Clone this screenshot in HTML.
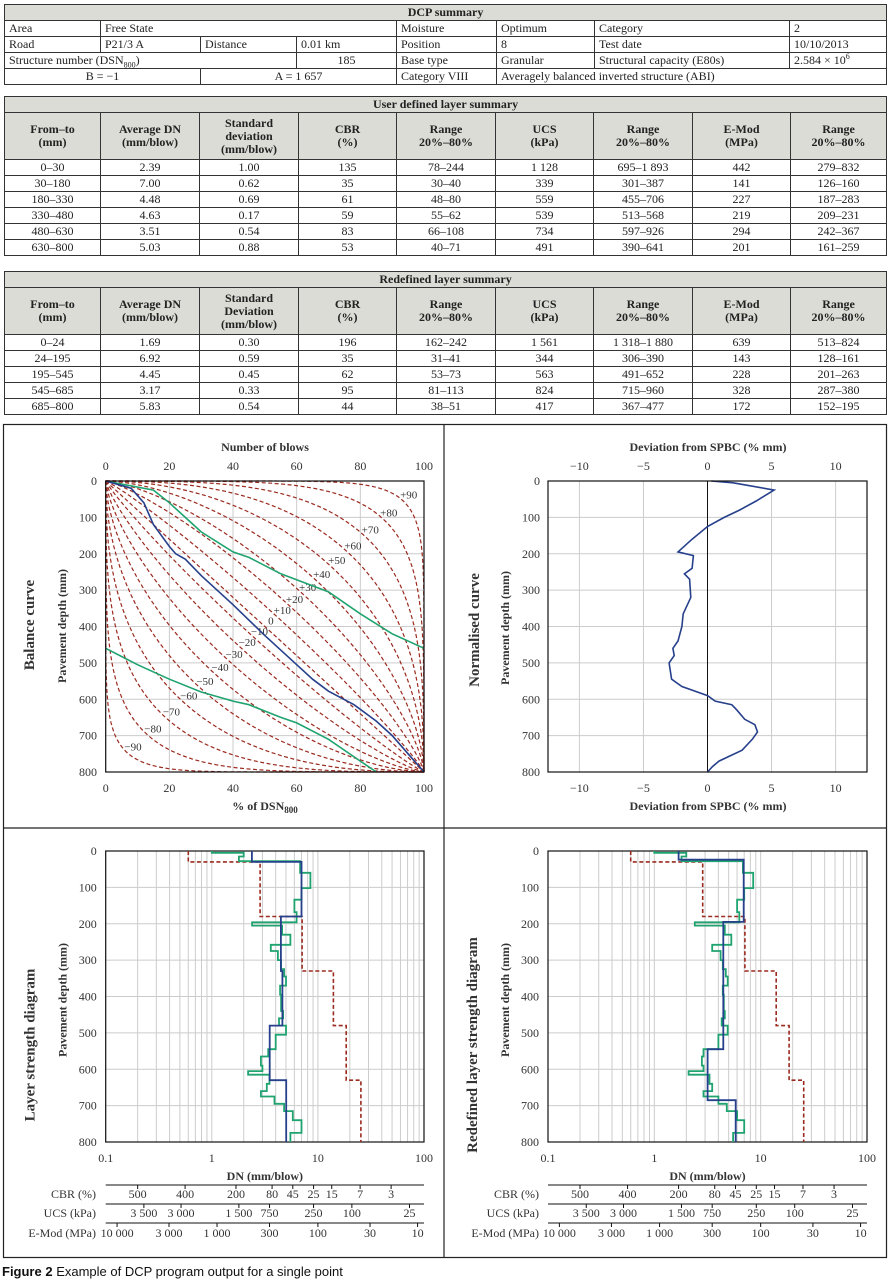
<!DOCTYPE html>
<html><head><meta charset="utf-8">
<style>
body{margin:0;background:#fff;width:890px;height:1285px;position:relative;overflow:hidden;font-family:"Liberation Serif",serif;color:#222}
table{position:absolute;border-collapse:collapse;table-layout:fixed;font-size:12px;font-family:"Liberation Serif",serif}
td{border:1px solid #333;padding:0 4px;height:15px;line-height:15px;white-space:nowrap;overflow:hidden}
sub,sup{line-height:0;font-size:8px}
.hd td{background:#dcdcd7;text-align:center}
.ch td{background:#dcdcd7;text-align:center;font-weight:bold;line-height:13px;height:46px}
.dr td{text-align:center}
.cap{position:absolute;left:2px;top:1264px;font-family:"Liberation Sans",sans-serif;font-size:13px;color:#111}
svg text{font-family:"Liberation Serif",serif}
</style></head><body>
<table style="left:4px;top:4px;width:882px">
<colgroup><col style="width:96px"><col style="width:100px"><col style="width:96px"><col style="width:100px"><col style="width:100px"><col style="width:98px"><col style="width:195px"><col style="width:97px"></colgroup>
<tr class="hd"><td colspan="8" style="font-weight:bold">DCP summary</td></tr>
<tr><td>Area</td><td colspan="3">Free State</td><td>Moisture</td><td>Optimum</td><td>Category</td><td>2</td></tr>
<tr><td>Road</td><td>P21/3 A</td><td>Distance</td><td>0.01 km</td><td>Position</td><td>8</td><td>Test date</td><td>10/10/2013</td></tr>
<tr><td colspan="3">Structure number (DSN<sub>800</sub>)</td><td style="text-align:center">185</td><td>Base type</td><td>Granular</td><td>Structural capacity (E80s)</td><td>2.584 × 10<sup>6</sup></td></tr>
<tr><td colspan="2" style="text-align:center">B = −1</td><td colspan="2" style="text-align:center">A = 1 657</td><td>Category VIII</td><td colspan="3">Averagely balanced inverted structure (ABI)</td></tr>
</table>

<table style="left:4px;top:96px;width:882px">
<colgroup><col style="width:96px"><col style="width:99px"><col style="width:99px"><col style="width:98px"><col style="width:99px"><col style="width:98px"><col style="width:99px"><col style="width:98px"><col style="width:96px"></colgroup>
<tr class="hd"><td colspan="9" style="font-weight:bold">User defined layer summary</td></tr>
<tr class="ch"><td>From–to<br>(mm)</td><td>Average DN<br>(mm/blow)</td><td>Standard<br>deviation<br>(mm/blow)</td><td>CBR<br>(%)</td><td>Range<br>20%–80%</td><td>UCS<br>(kPa)</td><td>Range<br>20%–80%</td><td>E-Mod<br>(MPa)</td><td>Range<br>20%–80%</td></tr>
<tr class="dr"><td>0–30</td><td>2.39</td><td>1.00</td><td>135</td><td>78–244</td><td>1 128</td><td>695–1 893</td><td>442</td><td>279–832</td></tr>
<tr class="dr"><td>30–180</td><td>7.00</td><td>0.62</td><td>35</td><td>30–40</td><td>339</td><td>301–387</td><td>141</td><td>126–160</td></tr>
<tr class="dr"><td>180–330</td><td>4.48</td><td>0.69</td><td>61</td><td>48–80</td><td>559</td><td>455–706</td><td>227</td><td>187–283</td></tr>
<tr class="dr"><td>330–480</td><td>4.63</td><td>0.17</td><td>59</td><td>55–62</td><td>539</td><td>513–568</td><td>219</td><td>209–231</td></tr>
<tr class="dr"><td>480–630</td><td>3.51</td><td>0.54</td><td>83</td><td>66–108</td><td>734</td><td>597–926</td><td>294</td><td>242–367</td></tr>
<tr class="dr"><td>630–800</td><td>5.03</td><td>0.88</td><td>53</td><td>40–71</td><td>491</td><td>390–641</td><td>201</td><td>161–259</td></tr>
</table>

<table style="left:4px;top:271px;width:882px">
<colgroup><col style="width:96px"><col style="width:99px"><col style="width:99px"><col style="width:98px"><col style="width:99px"><col style="width:98px"><col style="width:99px"><col style="width:98px"><col style="width:96px"></colgroup>
<tr class="hd"><td colspan="9" style="font-weight:bold">Redefined layer summary</td></tr>
<tr class="ch"><td>From–to<br>(mm)</td><td>Average DN<br>(mm/blow)</td><td>Standard<br>Deviation<br>(mm/blow)</td><td>CBR<br>(%)</td><td>Range<br>20%–80%</td><td>UCS<br>(kPa)</td><td>Range<br>20%–80%</td><td>E-Mod<br>(MPa)</td><td>Range<br>20%–80%</td></tr>
<tr class="dr"><td>0–24</td><td>1.69</td><td>0.30</td><td>196</td><td>162–242</td><td>1 561</td><td>1 318–1 880</td><td>639</td><td>513–824</td></tr>
<tr class="dr"><td>24–195</td><td>6.92</td><td>0.59</td><td>35</td><td>31–41</td><td>344</td><td>306–390</td><td>143</td><td>128–161</td></tr>
<tr class="dr"><td>195–545</td><td>4.45</td><td>0.45</td><td>62</td><td>53–73</td><td>563</td><td>491–652</td><td>228</td><td>201–263</td></tr>
<tr class="dr"><td>545–685</td><td>3.17</td><td>0.33</td><td>95</td><td>81–113</td><td>824</td><td>715–960</td><td>328</td><td>287–380</td></tr>
<tr class="dr"><td>685–800</td><td>5.83</td><td>0.54</td><td>44</td><td>38–51</td><td>417</td><td>367–477</td><td>172</td><td>152–195</td></tr>
</table>

<svg id="charts" width="890" height="1285" style="position:absolute;left:0;top:0" xmlns="http://www.w3.org/2000/svg"></svg>
<div class="cap"><b>Figure 2</b> Example of DCP program output for a single point</div>

<script>
// ---- data ----
const balanceCurveParams = [-90,-80,-70,-60,-50,-40,-30,-20,-10,0,10,20,30,40,50,60,70,80,90];
const balanceBluePct =   [0,8,12,15,20,22,25,30,40,50,60,65,70,78,85,90,95,100];
const balanceBlueDepth = [0,20,60,120,180,200,215,260,340,425,505,545,578,615,660,700,750,800];
const balanceGreenUpPct =   [0,15,20,25,30,40,45,55,70,80,90,100];
const balanceGreenUpDepth = [0,25,60,100,140,195,210,255,305,365,420,460];
const balanceGreenLoPct =   [0,10,20,30,40,45,55,60,70,80,85];
const balanceGreenLoDepth = [460,505,545,580,605,615,650,665,710,770,800];
const pctTicks = [0,20,40,60,80,100];
const depthTicks = [0,100,200,300,400,500,600,700,800];
const devTicks = [-10,-5,0,5,10];
const normDev =   [0.3,2,5.2,3.8,2.5,1.3,0,-1.2,-2.3,-1.1,-1.2,-1.8,-1.4,-1.3,-1.9,-2,-2.3,-2.7,-2.6,-3,-2.8,-2,0,0.6,1.9,2.3,2.9,3.7,3.9,3.5,2.7,0.9,0.4,0];
const normDepth = [0,5,25,55,80,100,125,160,195,205,240,255,270,320,365,400,440,460,480,500,545,565,590,605,615,630,655,670,690,710,740,770,785,800];
// layer strength (user defined)
const userLayerTops = [0,30,180,330,480,630,800];
const userLayerDN = [2.39,7.00,4.48,4.63,3.51,5.03];
const redLimitTops = [0,30,180,330,480,630,800];
const redLimitDN = [0.6,2.85,7.1,14,18.5,25.4];
const greenTops = [0,5,15,28,60,102,134,168,196,205,230,258,275,300,325,345,370,395,440,460,480,505,545,565,590,605,615,640,660,675,695,715,740,775,800];
const greenDN = [1.0,2.0,1.8,6.8,8.5,7.0,6.0,6.3,2.4,4.6,5.5,3.6,4.2,4.5,4.8,5.0,4.4,4.5,4.7,4.3,5.0,4.0,3.4,2.9,3.0,2.2,3.5,3.3,2.9,3.9,4.8,5.8,7.0,5.5];
// redefined
const redefTops = [0,24,195,545,685,800];
const redefDN = [1.69,6.92,4.45,3.17,5.83];
const greenDN2 = [1.0,2.0,1.8,6.8,8.5,7.0,6.0,6.3,2.4,4.6,5.3,3.5,4.2,4.4,4.7,4.9,4.4,4.5,4.6,4.3,4.9,4.0,2.9,2.8,2.9,2.1,3.3,3.5,2.9,4.0,4.8,6.0,7.0,5.5];
const logTicks = [0.1,1,10,100];
const cbrLabels = ["500","400","200","80","45","25","15","7","3"];
const cbrDN = [0.2,0.56,1.69,3.7,5.8,9.1,13.5,25,49];
const ucsLabels = ["3 500","3 000","1 500","750","250","100","25"];
const ucsDN = [0.229,0.513,1.8,3.5,9.1,20.9,73];
const emodLabels = ["10 000","3 000","1 000","300","100","30","10"];
const emodDN = [0.128,0.395,1.12,3.5,10,31,87];

const svg = document.getElementById('charts');
const NS='http://www.w3.org/2000/svg';
function mk(tag, attrs, parent){const e=document.createElementNS(NS,tag);for(const k in attrs)e.setAttribute(k,attrs[k]);(parent||svg).appendChild(e);return e;}
function txt(x,y,s,opt,parent){const o=Object.assign({x:x,y:y,'font-size':12,fill:'#333','text-anchor':'middle'},opt||{});const t=mk('text',o,parent);t.textContent=s;return t;}

// frames
const fr = mk('g',{});


mk('rect',{x:3.5,y:424.5,width:883,height:833,fill:'none',stroke:'#222','stroke-width':1.2},fr);
mk('line',{x1:444,y1:424,x2:444,y2:1258,stroke:'#222','stroke-width':1.2},fr);
mk('line',{x1:3,y1:828,x2:887,y2:828,stroke:'#222','stroke-width':1.2},fr);

const Y0=481, Y1=772;
function linY(d){return Y0+(d/800)*(Y1-Y0);}

// ---- balance chart ----
(function(){
  const g=mk('g',{});
  
  
  const X0=105.7,X1=424;
  const xs=p=>X0+p/100*(X1-X0);
  pctTicks.forEach(p=>{mk('line',{x1:xs(p),y1:Y0,x2:xs(p),y2:Y1,stroke:'#ccc','stroke-width':1},g);
    txt(xs(p),470,String(p),{},g); txt(xs(p),792,String(p),{},g);});
  depthTicks.forEach(d=>{mk('line',{x1:X0,y1:linY(d),x2:X1,y2:linY(d),stroke:'#ccc','stroke-width':1},g);
    txt(97,linY(d)+4,String(d),{'text-anchor':'end'},g);});
  balanceCurveParams.forEach(k=>{
    const a=1/(1-Math.abs(k)/100);
    let pts=[];
    for(let i=0;i<=120;i++){
      const t=i/120; let p,d;
      const th=t*Math.PI/2;
      const c=Math.pow(Math.cos(th),2/a), s=Math.pow(Math.sin(th),2/a);
      if(k>=0){p=s; d=1-c;} else {p=1-c; d=s;}
      if(k===0){p=t; d=t;}
      pts.push(xs(p*100).toFixed(1)+','+linY(d*800).toFixed(1));
    }
    const pl=mk('polyline',{points:pts.join(' '),fill:'none',stroke:'#9b2a1f','stroke-width':1.2,'stroke-dasharray':'4,2.5'},g);
    
    
    const q=Math.pow(2,-1/a);
    let lp,ld;
    if(k>=0){lp=q; ld=1-q;} else {lp=1-q; ld=q;}
    if(k===0){lp=0.5;ld=0.5;}
    const lab=(k>0?'+':(k<0?'−':''))+Math.abs(k);
    txt(xs(lp*100)+6,linY(ld*800)-2,lab,{'font-size':11,'text-anchor':'middle',fill:'#333'},g);
  });
  function line(px,dy,col,name){
    const pl=mk('polyline',{points:px.map((p,i)=>xs(p).toFixed(1)+','+linY(dy[i]).toFixed(1)).join(' '),fill:'none',stroke:col,'stroke-width':1.6},g);
    
    
  }
  line(balanceGreenUpPct,balanceGreenUpDepth,'#1fa36f','balance-upper-limit');
  line(balanceGreenLoPct,balanceGreenLoDepth,'#1fa36f','balance-lower-limit');
  line(balanceBluePct,balanceBlueDepth,'#27408b','balance-curve-measured');
  mk('rect',{x:X0,y:Y0,width:X1-X0,height:Y1-Y0,fill:'none',stroke:'#111','stroke-width':1.2},g);
  txt(265,451,'Number of blows',{'font-weight':'bold'},g);
  const t2=txt(265,810,'% of DSN',{'font-weight':'bold'},g);
  const ts=mk('tspan',{'font-size':9,dy:3},t2); ts.textContent='800';
  txt(0,0,'Balance curve',{'font-weight':'bold','font-size':15,transform:'translate(34,625) rotate(-90)'},g);
  txt(0,0,'Pavement depth (mm)',{'font-weight':'bold','font-size':12,transform:'translate(66,626) rotate(-90)'},g);
})();

// ---- normalised chart ----
(function(){
  const g=mk('g',{});
  
  
  const X0=548,X1=867;
  const xs=v=>X0+(v+12.45)/24.9*(X1-X0);
  devTicks.forEach(v=>{if(v!==0)mk('line',{x1:xs(v),y1:Y0,x2:xs(v),y2:Y1,stroke:'#ccc'},g);
    const l=(v<0?'−':'')+Math.abs(v);
    txt(xs(v),470,l,{},g); txt(xs(v),792,l,{},g);});
  depthTicks.forEach(d=>{mk('line',{x1:X0,y1:linY(d),x2:X1,y2:linY(d),stroke:'#ccc'},g);
    txt(540,linY(d)+4,String(d),{'text-anchor':'end'},g);});
  mk('line',{x1:xs(0),y1:Y0,x2:xs(0),y2:Y1,stroke:'#111','stroke-width':1},g);
  const pl=mk('polyline',{points:normDev.map((v,i)=>xs(v).toFixed(1)+','+linY(normDepth[i]).toFixed(1)).join(' '),fill:'none',stroke:'#27408b','stroke-width':1.6},g);
  
  
  mk('rect',{x:X0,y:Y0,width:X1-X0,height:Y1-Y0,fill:'none',stroke:'#111','stroke-width':1.2},g);
  txt(708,451,'Deviation from SPBC (% mm)',{'font-weight':'bold'},g);
  txt(708,810,'Deviation from SPBC (% mm)',{'font-weight':'bold'},g);
  txt(0,0,'Normalised curve',{'font-weight':'bold','font-size':15,transform:'translate(479,630) rotate(-90)'},g);
  txt(0,0,'Pavement depth (mm)',{'font-weight':'bold','font-size':12,transform:'translate(509,628) rotate(-90)'},g);
})();

// ---- layer strength charts ----
function layerChart(X0,X1,name,title,avgTops,avgDN,gDN,labX){
  const g=mk('g',{});
  
  
  const B0=851,B1=1142;
  const ys=d=>B0+d/800*(B1-B0);
  const xs=v=>X0+(Math.log10(v)+1)/3*(X1-X0);
  for(let dec=0.1;dec<100;dec*=10){for(let m=1;m<10;m++){const v=dec*m;
    if(m>1)mk('line',{x1:xs(v),y1:B0,x2:xs(v),y2:B1,stroke:'#ccc'},g);}}
  logTicks.forEach(v=>{mk('line',{x1:xs(v),y1:B0,x2:xs(v),y2:B1,stroke:'#ccc'},g);
    txt(xs(v),1162,String(v),{},g);});
  depthTicks.forEach(d=>{mk('line',{x1:X0,y1:ys(d),x2:X1,y2:ys(d),stroke:'#ccc'},g);
    txt(X0-9,ys(d)+4,String(d),{'text-anchor':'end'},g);});
  function step(tops,vals,col,dash,nm,w){
    let d='';
    vals.forEach((v,i)=>{d+=(i?'L':'M')+xs(v).toFixed(1)+','+ys(tops[i]).toFixed(1)+'L'+xs(v).toFixed(1)+','+ys(tops[i+1]).toFixed(1);});
    const p=mk('path',{d:d,fill:'none',stroke:col,'stroke-width':w});
    if(dash)p.setAttribute('stroke-dasharray',dash);
    
    
  }
  step(redLimitTops,redLimitDN,'#9b2a1f','4,2.5',name+'-limit-line',1.6);
  step(greenTops,gDN,'#1fa36f',null,name+'-dn-readings',1.8);
  step(avgTops,avgDN,'#27408b',null,name+'-layer-average',1.8);
  mk('rect',{x:X0,y:B0,width:X1-X0,height:B1-B0,fill:'none',stroke:'#111','stroke-width':1.2},g);
  txt((X0+X1)/2,1180,'DN (mm/blow)',{'font-weight':'bold'},g);
  [1185,1204,1223].forEach(y=>mk('line',{x1:X0,y1:y,x2:X1,y2:y,stroke:'#111','stroke-width':1},g));
  txt(labX,1198,'CBR (%)',{'text-anchor':'end'},g);
  txt(labX,1217,'UCS (kPa)',{'text-anchor':'end'},g);
  txt(labX,1237,'E-Mod (MPa)',{'text-anchor':'end'},g);
  cbrDN.forEach((v,i)=>{mk('line',{x1:xs(v),y1:1185,x2:xs(v),y2:1189,stroke:'#111'},g);txt(xs(v),1198,cbrLabels[i],{},g);});
  ucsDN.forEach((v,i)=>{mk('line',{x1:xs(v),y1:1204,x2:xs(v),y2:1208,stroke:'#111'},g);txt(xs(v),1217,ucsLabels[i],{},g);});
  emodDN.forEach((v,i)=>{mk('line',{x1:xs(v),y1:1223,x2:xs(v),y2:1227,stroke:'#111'},g);txt(xs(v),1237,emodLabels[i],{},g);});
  txt(0,0,title,{'font-weight':'bold','font-size':15,transform:'translate('+(X0-71)+',1045) rotate(-90)'},g);
  txt(0,0,'Pavement depth (mm)',{'font-weight':'bold','font-size':12,transform:'translate('+(X0-39)+',1000) rotate(-90)'},g);
}
layerChart(105.7,424,'layer-strength-chart','Layer strength diagram',userLayerTops,userLayerDN,greenDN,96);
layerChart(548,867,'redefined-layer-strength-chart','Redefined layer strength diagram',redefTops,redefDN,greenDN2,539);
</script>
</body></html>
